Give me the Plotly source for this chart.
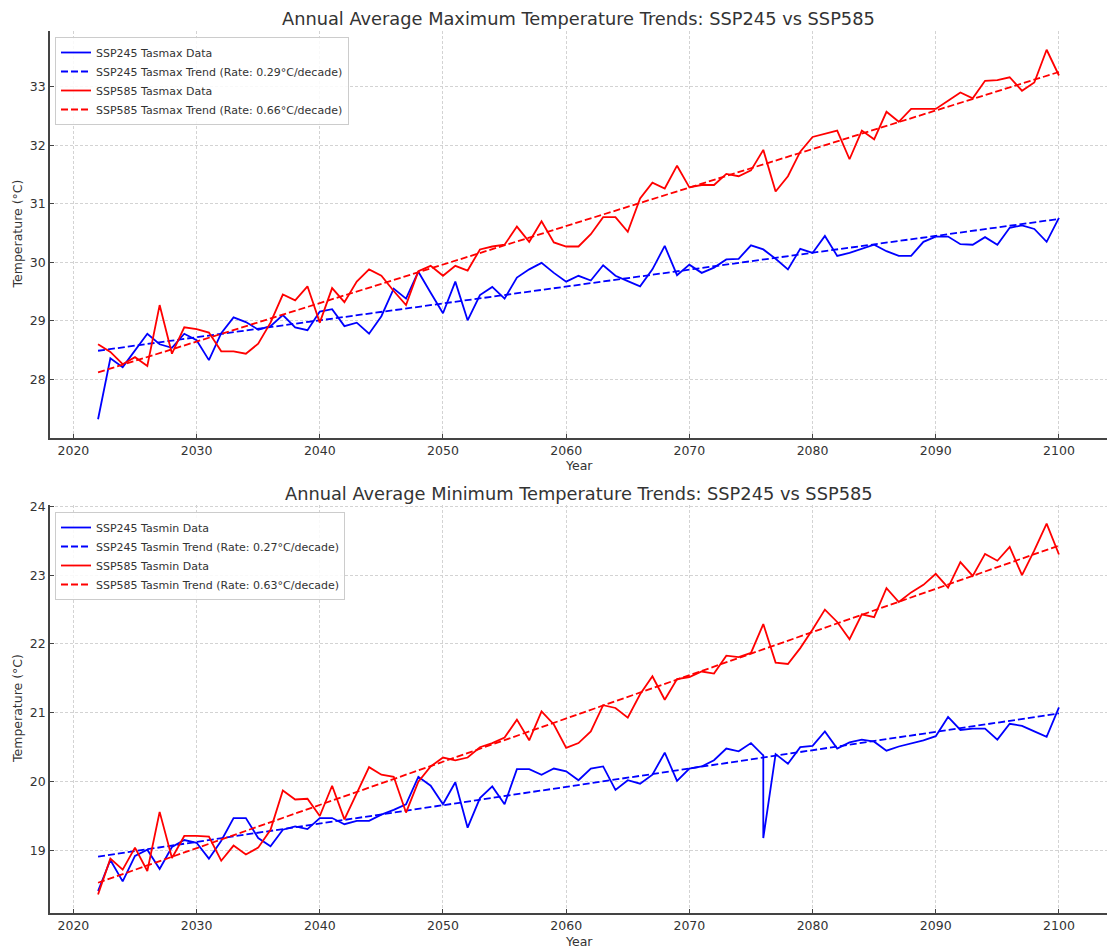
import plotly.graph_objects as go

# ---------------- data ----------------
years = list(range(2022, 2101))

tasmax_ssp245 = [
    27.32, 28.36, 28.21, 28.50, 28.78, 28.60, 28.54, 28.78, 28.67, 28.33,
    28.79, 29.06, 28.98, 28.85, 28.91, 29.10, 28.89, 28.84, 29.16, 29.20,
    28.91, 28.97, 28.78, 29.08, 29.55, 29.38, 29.84, 29.48, 29.13, 29.67,
    29.01, 29.44, 29.58, 29.38, 29.74, 29.88, 29.99, 29.82, 29.67, 29.77,
    29.69, 29.95, 29.77, 29.68, 29.59, 29.88, 30.28, 29.78, 29.96, 29.82,
    29.91, 30.05, 30.06, 30.29, 30.22, 30.06, 29.88, 30.23, 30.16, 30.45,
    30.11, 30.16, 30.23, 30.30, 30.19, 30.11, 30.11, 30.35, 30.44, 30.44,
    30.31, 30.30, 30.43, 30.30, 30.59, 30.63, 30.57, 30.35, 30.76,
]
tasmax_ssp585 = [
    28.60, 28.47, 28.26, 28.38, 28.23, 29.27, 28.44, 28.89, 28.86, 28.80,
    28.48, 28.48, 28.44, 28.61, 28.97, 29.45, 29.35, 29.59, 28.97, 29.56,
    29.32, 29.67, 29.88, 29.77, 29.51, 29.27, 29.85, 29.94, 29.77, 29.94,
    29.86, 30.22, 30.27, 30.30, 30.61, 30.35, 30.70, 30.34, 30.27, 30.27,
    30.48, 30.77, 30.77, 30.52, 31.09, 31.36, 31.26, 31.65, 31.28, 31.32,
    31.32, 31.51, 31.47, 31.57, 31.92, 31.21, 31.47, 31.89, 32.14, 32.19,
    32.25, 31.76, 32.25, 32.10, 32.57, 32.40, 32.62, 32.62, 32.62, 32.76,
    32.90, 32.80, 33.10, 33.11, 33.16, 32.93, 33.07, 33.63, 33.19,
]

# SSP245 tasmin series contains a duplicated 2076 record
tasmin_ssp245_years = years[:55] + [2076] + years[55:]
tasmin_ssp245 = [
    18.41, 18.86, 18.55, 18.92, 19.01, 18.73, 19.05, 19.15, 19.11, 18.88,
    19.14, 19.47, 19.47, 19.18, 19.06, 19.30, 19.35, 19.31, 19.47, 19.47,
    19.38, 19.43, 19.43, 19.52, 19.59, 19.67, 20.07, 19.94, 19.67, 19.99,
    19.33, 19.76, 19.93, 19.67, 20.18, 20.18, 20.10, 20.19, 20.15, 20.02,
    20.19, 20.22, 19.88, 20.02, 19.97, 20.10, 20.42, 20.01, 20.19, 20.22,
    20.31, 20.48, 20.44, 20.56, 20.38, 19.18, 20.40, 20.26, 20.50, 20.52,
    20.73, 20.48, 20.57, 20.61, 20.58, 20.45, 20.51, 20.55, 20.60, 20.66,
    20.94, 20.75, 20.77, 20.77, 20.61, 20.84, 20.81, 20.73, 20.65, 21.08,
]
tasmin_ssp585 = [
    18.36, 18.88, 18.72, 19.04, 18.70, 19.56, 18.89, 19.21, 19.21, 19.20,
    18.85, 19.07, 18.94, 19.04, 19.30, 19.87, 19.74, 19.75, 19.50, 19.94,
    19.45, 19.84, 20.21, 20.10, 20.07, 19.55, 20.00, 20.22, 20.35, 20.31,
    20.35, 20.50, 20.56, 20.64, 20.90, 20.60, 21.02, 20.83, 20.49, 20.56,
    20.73, 21.11, 21.07, 20.93, 21.27, 21.53, 21.19, 21.49, 21.52, 21.60,
    21.57, 21.83, 21.81, 21.87, 22.29, 21.73, 21.71, 21.94, 22.21, 22.50,
    22.32, 22.07, 22.43, 22.39, 22.81, 22.61, 22.75, 22.86, 23.02, 22.82,
    23.19, 22.99, 23.31, 23.21, 23.41, 23.00, 23.36, 23.75, 23.30,
]

trend_years = [2022, 2100]
tasmax_ssp245_trend = [28.49, 30.74]
tasmax_ssp585_trend = [28.12, 33.25]
tasmin_ssp245_trend = [18.91, 20.99]
tasmin_ssp585_trend = [18.53, 23.43]

rates = {"tasmax245": 0.29, "tasmax585": 0.66, "tasmin245": 0.27, "tasmin585": 0.63}

x_ticks = [2020, 2030, 2040, 2050, 2060, 2070, 2080, 2090, 2100]
tasmax_ticks = [28, 29, 30, 31, 32, 33]
tasmin_ticks = [19, 20, 21, 22, 23, 24]

titles = [
    "Annual Average Maximum Temperature Trends: SSP245 vs SSP585",
    "Annual Average Minimum Temperature Trends: SSP245 vs SSP585",
]

# ---------------- figure ----------------
W, H = 1109, 951
BLUE, RED = "#0000ff", "#ff0000"
TXT = "#333333"
FONT = "DejaVu Sans"
LW = 1.8
DASH = "7px,3px"

fig = go.Figure()

def add(x, y, name, color, dash, xa, ya, legend):
    fig.add_trace(go.Scatter(
        x=x, y=y, mode="lines", name=name,
        line=dict(color=color, width=LW, dash=dash),
        xaxis=xa, yaxis=ya, legend=legend, hoverinfo="x+y",
    ))

add(years, tasmax_ssp245, "SSP245 Tasmax Data", BLUE, "solid", "x", "y", "legend")
add(trend_years, tasmax_ssp245_trend,
    f"SSP245 Tasmax Trend (Rate: {rates['tasmax245']:.2f}°C/decade)", BLUE, DASH, "x", "y", "legend")
add(years, tasmax_ssp585, "SSP585 Tasmax Data", RED, "solid", "x", "y", "legend")
add(trend_years, tasmax_ssp585_trend,
    f"SSP585 Tasmax Trend (Rate: {rates['tasmax585']:.2f}°C/decade)", RED, DASH, "x", "y", "legend")

add(tasmin_ssp245_years, tasmin_ssp245, "SSP245 Tasmin Data", BLUE, "solid", "x2", "y2", "legend2")
add(trend_years, tasmin_ssp245_trend,
    f"SSP245 Tasmin Trend (Rate: {rates['tasmin245']:.2f}°C/decade)", BLUE, DASH, "x2", "y2", "legend2")
add(years, tasmin_ssp585, "SSP585 Tasmin Data", RED, "solid", "x2", "y2", "legend2")
add(trend_years, tasmin_ssp585_trend,
    f"SSP585 Tasmin Trend (Rate: {rates['tasmin585']:.2f}°C/decade)", RED, DASH, "x2", "y2", "legend2")

def px_x(p):
    return p / W

def px_y(p):
    return 1 - p / H

x_dom = [px_x(50), px_x(1107)]
top_dom = [px_y(438), px_y(31)]
bot_dom = [px_y(913), px_y(505)]

common_axis = dict(
    showline=True, linecolor="#444444", linewidth=1.6, mirror=False,
    ticks="inside", ticklen=4, tickwidth=1, tickcolor="#444444",
    showgrid=True, gridcolor="#d3d3d3", gridwidth=0.8, griddash="3px,2px",
    zeroline=False, automargin=False,
    tickfont=dict(family=FONT, size=12.5, color=TXT),
)

legend_style = dict(
    xanchor="left", yanchor="top",
    bgcolor="rgba(255,255,255,0.85)", bordercolor="#cccccc", borderwidth=1,
    font=dict(family=FONT, size=11, color=TXT), itemwidth=30, tracegroupgap=0,
)

fig.update_layout(
    width=W, height=H,
    margin=dict(l=0, r=0, t=0, b=0),
    paper_bgcolor="white", plot_bgcolor="white",
    font=dict(family=FONT, color=TXT),
    xaxis=dict(domain=x_dom, anchor="y", range=[2018.1, 2103.9],
               tickvals=x_ticks, **common_axis),
    yaxis=dict(domain=top_dom, anchor="x", range=[27.0, 33.95],
               tickvals=tasmax_ticks, **common_axis),
    xaxis2=dict(domain=x_dom, anchor="y2", range=[2018.1, 2103.9],
                tickvals=x_ticks, **common_axis),
    yaxis2=dict(domain=bot_dom, anchor="x2", range=[18.09, 24.02],
                tickvals=tasmin_ticks, **common_axis),
    legend=dict(x=px_x(55), y=px_y(37), **legend_style),
    legend2=dict(x=px_x(55), y=px_y(512), **legend_style),
    showlegend=True,
)

cx = px_x((50 + 1107) / 2)
ann = [
    dict(text=titles[0], x=cx, y=px_y(19), size=17.8),
    dict(text=titles[1], x=cx, y=px_y(493), size=17.8),
    dict(text="Year", x=cx, y=px_y(465), size=12.5),
    dict(text="Year", x=cx, y=px_y(941), size=12.5),
]
for a in ann:
    fig.add_annotation(text=a["text"], x=a["x"], y=a["y"], xref="paper", yref="paper",
                       xanchor="center", yanchor="middle", showarrow=False,
                       font=dict(family=FONT, size=a["size"], color=TXT))
for yc in (234.5, 709):
    fig.add_annotation(text="Temperature (°C)", x=px_x(17), y=px_y(yc), xref="paper", yref="paper",
                       xanchor="center", yanchor="middle", showarrow=False, textangle=-90,
                       font=dict(family=FONT, size=12.5, color=TXT))

fig.write_html("out.html", config={"displayModeBar": False},
               post_script="document.body.style.margin='0';")
